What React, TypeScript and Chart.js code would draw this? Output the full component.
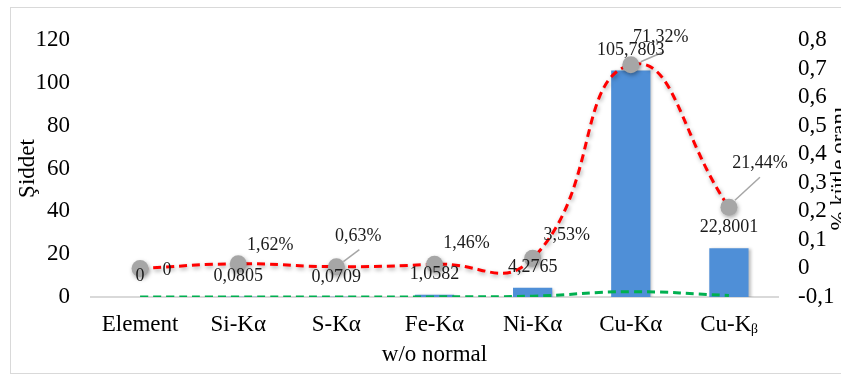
import React, { useEffect, useRef } from 'react';
import { Chart, registerables } from 'chart.js';

Chart.register(...registerables);

const categories = ['Element', 'Si-Kα', 'S-Kα', 'Fe-Kα', 'Ni-Kα', 'Cu-Kα', 'Cu-Kᵦ'];
const intensity = [0, 0.0805, 0.0709, 1.0582, 4.2765, 105.7803, 22.8001];
const massFraction = [0, 0.0162, 0.0063, 0.0146, 0.0353, 0.7132, 0.2144];
const normalLine = [0, 0.05, 0.02, 0.05, 0.4, 2.5, 0.75];
const leftTickValues = [0, 20, 40, 60, 80, 100, 120];
const rightTickValues = [-0.1, 0, 0.1, 0.2, 0.3, 0.4, 0.5, 0.6, 0.7, 0.8];
const rightTickLabels = ['-0,1', '0', '0,1', '0,2', '0,3', '0,4', '0,5', '0,6', '0,7', '0,8'];

const leftTitle = 'Şiddet';
const rightTitle = '% kütle oranı';
const bottomTitle = 'w/o normal';

// label offsets relative to each marker (style only)
const valueLabelOffsets = [[0, 8], [0, 12], [0, 11], [0, 10], [0, 9], [0, -15], [0, 20]];
const pctLabelOffsets = [[27, 2], [32, -19], [22, -30], [32, -21], [34, -23], [30, -28], [31, -44]];
// leader lines: [index, startDx, startDy, endDx(from label), endDy(from label)]
const leaders = [[2, 7, -5, 1, 13], [5, 10, -3, 3, 15], [6, 6, -7, 0, 14]];

const FONT = "'Liberation Serif', 'Times New Roman', serif";

const fmtValue = (v: number) => String(v).replace('.', ',');
const fmtPct = (v: number) => (v === 0 ? '0' : (v * 100).toFixed(2).replace('.', ',') + '%');

const overlay = {
  id: 'overlay',
  beforeDatasetDraw(chart: any, args: any) {
    const ctx = chart.ctx;
    ctx.save();
    if (args.index === 2) {
      ctx.shadowColor = 'rgba(0,0,0,0.35)';
      ctx.shadowBlur = 4;
      ctx.shadowOffsetX = 1;
      ctx.shadowOffsetY = 2;
    } else if (args.index === 0) {
      ctx.shadowColor = 'rgba(0,0,0,0.25)';
      ctx.shadowBlur = 3;
      ctx.shadowOffsetX = 2;
      ctx.shadowOffsetY = 1;
    }
  },
  afterDatasetDraw(chart: any) {
    chart.ctx.restore();
  },
  afterDatasetsDraw(chart: any) {
    const ctx = chart.ctx;
    const meta = chart.getDatasetMeta(2);
    ctx.save();
    ctx.font = `18px ${FONT}`;
    ctx.fillStyle = '#1a1a1a';
    ctx.textAlign = 'center';
    ctx.textBaseline = 'middle';
    ctx.strokeStyle = '#a6a6a6';
    ctx.lineWidth = 1.5;
    leaders.forEach(([i, sx, sy, ex, ey]) => {
      const p = meta.data[i];
      const lx = p.x + pctLabelOffsets[i][0];
      const ly = p.y + pctLabelOffsets[i][1];
      ctx.beginPath();
      ctx.moveTo(p.x + sx, p.y + sy);
      ctx.lineTo(lx + ex, ly + ey);
      ctx.stroke();
    });
    meta.data.forEach((p: any, i: number) => {
      ctx.fillText(fmtPct(massFraction[i]), p.x + pctLabelOffsets[i][0], p.y + pctLabelOffsets[i][1]);
      ctx.fillText(fmtValue(intensity[i]), p.x + valueLabelOffsets[i][0], p.y + valueLabelOffsets[i][1]);
    });
    ctx.restore();
  },
  afterDraw(chart: any) {
    const ctx = chart.ctx;
    const a = chart.chartArea;
    const cy = (a.top + a.bottom) / 2;
    ctx.save();
    ctx.font = `23px ${FONT}`;
    ctx.fillStyle = '#000';
    ctx.textAlign = 'center';
    ctx.textBaseline = 'middle';
    ctx.fillText(bottomTitle, (a.left + a.right) / 2, a.bottom + 58);
    ctx.save();
    ctx.translate(28, cy);
    ctx.rotate(-Math.PI / 2);
    ctx.fillText(leftTitle, 0, 0);
    ctx.restore();
    ctx.save();
    ctx.translate(chart.width + 5, cy);
    ctx.rotate(-Math.PI / 2);
    ctx.textBaseline = 'alphabetic';
    ctx.fillText(rightTitle, 0, 0);
    ctx.restore();
    ctx.restore();
  },
};

export default function App() {
  const ref = useRef<HTMLCanvasElement>(null);
  useEffect(() => {
    if (!ref.current) return;
    const chart = new Chart(ref.current, {
      type: 'bar',
      data: {
        labels: categories,
        datasets: [
          {
            type: 'bar',
            label: 'Şiddet',
            data: intensity,
            yAxisID: 'y',
            backgroundColor: '#4f8fd7',
            barPercentage: 0.4,
            categoryPercentage: 1,
            order: 3,
          },
          {
            type: 'line',
            label: 'w/o normal',
            data: normalLine,
            yAxisID: 'y',
            borderColor: '#00b050',
            borderWidth: 3,
            borderDash: [8, 5],
            pointRadius: 0,
            tension: 0.4,
            order: 2,
          },
          {
            type: 'line',
            label: '% kütle oranı',
            data: massFraction,
            yAxisID: 'y1',
            borderColor: '#ff0000',
            borderWidth: 3,
            borderDash: [8, 5],
            pointRadius: 8.5,
            pointBackgroundColor: '#a6a6a6',
            pointBorderWidth: 0,
            tension: 0.5,
            order: 1,
          },
        ] as any,
      },
      options: {
        responsive: false,
        animation: false,
        layout: { padding: { top: 40, left: 0, right: 0, bottom: 0 } },
        plugins: { legend: { display: false }, tooltip: { enabled: false } },
        scales: {
          x: {
            grid: { display: false, drawTicks: false },
            border: { color: '#d9d9d9', width: 2 },
            ticks: { font: { family: FONT, size: 23 }, color: '#000', padding: 14, maxRotation: 0, autoSkip: false },
            afterFit: (s: any) => { s.height = 77; },
          },
          y: {
            position: 'left',
            min: 0,
            max: 120,
            grid: { display: false, drawTicks: false },
            border: { display: false },
            afterBuildTicks: (s: any) => { s.ticks = leftTickValues.map((v) => ({ value: v })); },
            ticks: { font: { family: FONT, size: 23 }, color: '#000', padding: 21, autoSkip: false },
            afterFit: (s: any) => { s.width = 91; },
          },
          y1: {
            position: 'right',
            min: -0.1,
            max: 0.8,
            grid: { display: false, drawTicks: false },
            border: { display: false },
            afterBuildTicks: (s: any) => { s.ticks = rightTickValues.map((v) => ({ value: v })); },
            ticks: {
              autoSkip: false,
              font: { family: FONT, size: 23 },
              color: '#000',
              padding: 20,
              callback: (v: any, i: number) => rightTickLabels[i] ?? String(v).replace('.', ','),
            },
            afterFit: (s: any) => { s.width = 63; },
          },
        },
      } as any,
      plugins: [overlay],
    });
    return () => chart.destroy();
  }, []);

  return (
    <div style={{ position: 'absolute', left: 0, top: 0, width: 841, height: 374, background: '#fff' }}>
      <canvas ref={ref} width={841} height={374} style={{ position: 'absolute', left: 0, top: 0 }} />
      <div
        style={{
          position: 'absolute',
          left: 10,
          top: 7,
          width: 840,
          height: 365,
          borderLeft: '1px solid #d9d9d9',
          borderTop: '1px solid #d9d9d9',
          borderBottom: '1px solid #d9d9d9',
          pointerEvents: 'none',
        }}
      />
    </div>
  );
}
